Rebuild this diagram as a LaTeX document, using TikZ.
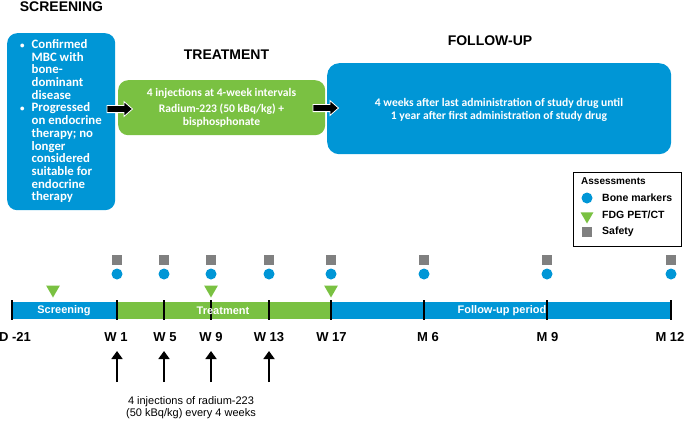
\documentclass[tikz,border=0pt]{standalone}
\usepackage{fontspec}
\setmainfont{Liberation Sans}
\newfontfamily\carl{Carlito}
\usetikzlibrary{shapes.geometric,arrows.meta}
\definecolor{cblue}{RGB}{0,150,214}
\definecolor{cgreen}{RGB}{122,193,66}
\definecolor{cgray}{RGB}{128,128,128}
\begin{document}
\begin{tikzpicture}[x=1pt,y=-1pt,
  title/.style={font=\fontsize{14}{16}\selectfont\bfseries, inner sep=0},
  phase/.style={rounded corners=10pt, inner sep=0, anchor=north west},
  boxtext/.style={text=white, font=\carl\bfseries\fontsize{11.6}{13}\selectfont, align=center, inner sep=0},
  blockarr/.style={fill=black, draw=white, line width=0.8pt},
  tickmark/.style={line width=2.8pt, black},
  tlabel/.style={font=\fontsize{13}{15}\selectfont\bfseries, inner sep=0},
  barlabel/.style={text=white, font=\fontsize{11}{13}\selectfont\bfseries, inner sep=0},
  sq/.style={fill=cgray, minimum size=10pt, inner sep=0},
  dot/.style={circle, fill=cblue, minimum size=11pt, inner sep=0},
  tri/.style={regular polygon, regular polygon sides=3, shape border rotate=180, fill=cgreen, minimum size=16pt, inner sep=0},
  injarrow/.style={line width=1.8pt, -{Triangle[length=8pt,width=11pt]}},
  legtext/.style={font=\fontsize{10.5}{12}\selectfont\bfseries, inner sep=0, anchor=west}
]
\useasboundingbox (0,0) rectangle (685,421);

% titles
\node[title] (tscr) at (61.5,7) {SCREENING};
\node[title] (ttrt) at (226.5,55) {TREATMENT};
\node[title] (tfup) at (490,41) {FOLLOW-UP};

% phase boxes
\node[phase, fill=cblue, minimum width=108pt, minimum height=177pt] (scr) at (7,33) {};
\node[text=white, font=\carl\bfseries\fontsize{12.8}{12.3}\selectfont, inner sep=0, anchor=west] (scrtxt) at (20,122)
{\begin{tabular}{@{}l@{\hspace{7pt}}l@{}}
{\fontsize{9}{9}\selectfont\textbullet} & Confirmed\\
 & MBC with\\
 & bone-\\
 & dominant\\
 & disease\\
{\fontsize{9}{9}\selectfont\textbullet} & Progressed\\
 & on endocrine\\
 & therapy; no\\
 & longer\\
 & considered\\
 & suitable for\\
 & endocrine\\
 & therapy
\end{tabular}};

\node[phase, fill=cgreen, minimum width=207pt, minimum height=55pt] (trt) at (118,80) {};
\node[boxtext] (trttxt) at (221.5,108) {4 injections at 4-week intervals\\[3.5pt] Radium-223 (50 kBq/kg) +\\ bisphosphonate};

\node[phase, fill=cblue, minimum width=344pt, minimum height=91pt, rounded corners=12pt] (fup) at (327,63) {};
\node[boxtext] (fuptxt) at (499,109.5) {4 weeks after last administration of study drug until\\ 1 year after first administration of study drug};

% block arrows
\coordinate (a1) at (107,109);
\coordinate (a2) at (313,108);
\foreach \a in {a1,a2}{
  \filldraw[blockarr] (\a) ++(0,-3.6) -- ++(17,0) -- ++(0,-3.8) -- ++(8.5,7.4) -- ++(-8.5,7.4) -- ++(0,-3.8) -- ++(-17,0) -- cycle;
}

% legend
\node[draw=black, line width=0.8pt, minimum width=108pt, minimum height=74pt, anchor=north west, inner sep=0] (leg) at (573,172) {};
\node[font=\fontsize{10}{12}\selectfont\bfseries, inner sep=0, anchor=west] (legtitle) at (581,181) {Assessments};
\node[dot] (ldot) at (587,198) {};
\node[tri, minimum size=15pt] (ltri) at (587,216) {};
\node[sq] (lsq) at (587,232) {};
\node[legtext] (lbm) at (602,198) {Bone markers};
\node[legtext] (lfdg) at (602,215) {FDG PET/CT};
\node[legtext] (lsaf) at (602,232) {Safety};

% timeline bar
\fill[cblue] (12,302) rectangle (117,319);
\fill[cgreen] (117,302) rectangle (331,319);
\fill[cblue] (331,302) rectangle (671,319);
\foreach \x/\n in {12/t0,117/t1,164/t2,211/t3,269/t4,331/t5,424/t6,547/t7,671/t8}{
  \coordinate (\n top) at (\x,300);
  \coordinate (\n bot) at (\x,320);
  \draw[tickmark] (\n top) -- (\n bot);
}
\node[barlabel] (bscr) at (64,310.5) {Screening};
\node[barlabel] (btrt) at (223,310.5) {Treatment};
\node[barlabel] (bfup) at (502,310.5) {Follow-up period};

% markers
\foreach \x/\n in {117/1,164/2,211/3,269/4,331/5,424/6,547/7,671/8}{
  \node[sq] (s\n) at (\x,260) {};
  \node[dot] (c\n) at (\x,274) {};
}
\node[tri] (f0) at (53,289.5) {};
\node[tri] (f3) at (211,289.5) {};
\node[tri] (f5) at (331,289.5) {};

% labels
\node[tlabel] (l0) at (15,337) {D -21};
\node[tlabel] (l1) at (116,337) {W 1};
\node[tlabel] (l2) at (165,337) {W 5};
\node[tlabel] (l3) at (211,337) {W 9};
\node[tlabel] (l4) at (269,337) {W 13};
\node[tlabel] (l5) at (331.5,337) {W 17};
\node[tlabel] (l6) at (428,337) {M 6};
\node[tlabel] (l7) at (547.5,337) {M 9};
\node[tlabel] (l8) at (670,337) {M 12};

% injection arrows
\foreach \x/\n in {117/1,164/2,211/3,269/4}{
  \coordinate (i\n) at (\x,382);
  \coordinate (j\n) at (\x,351);
  \draw[injarrow] (i\n) -- (j\n);
}
\node[font=\fontsize{11}{12}\selectfont, align=center, inner sep=0] (inj) at (191,408) {4 injections of radium-223\\(50 kBq/kg) every 4 weeks};
\end{tikzpicture}
\end{document}
